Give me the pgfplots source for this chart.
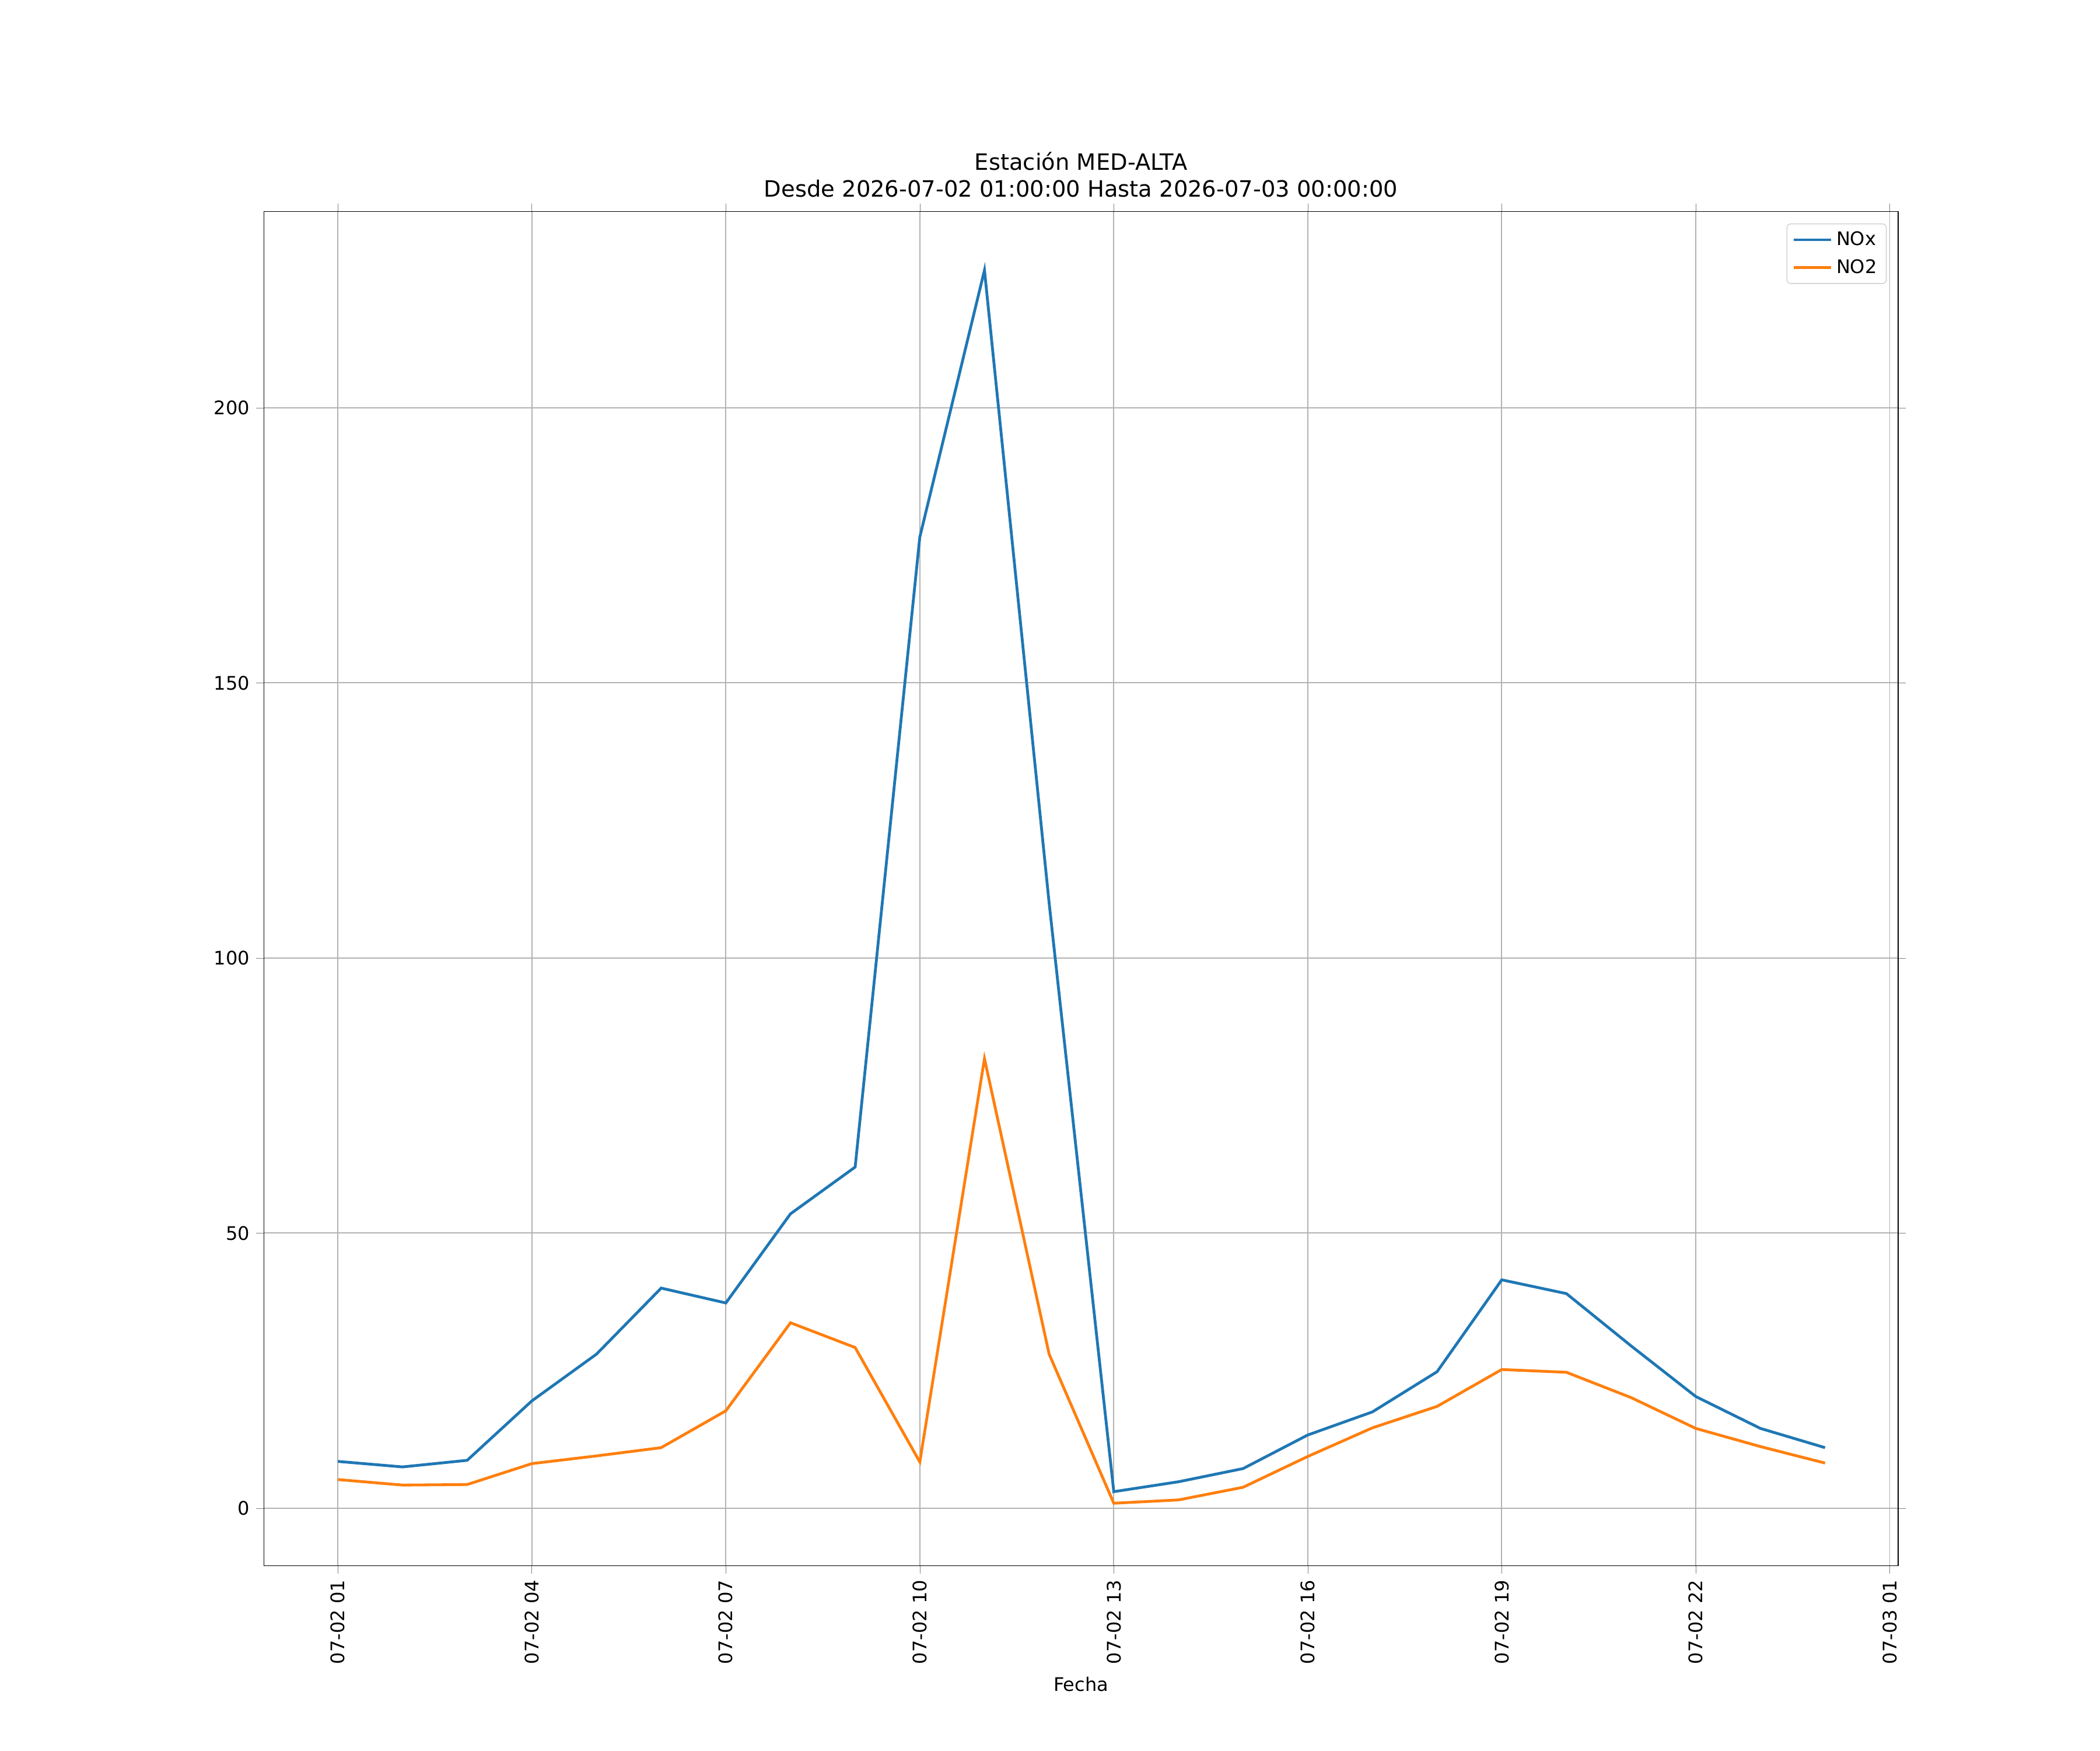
\documentclass[border=0pt]{standalone}
\usepackage{pgfplots}
\pgfplotsset{compat=1.18}
\usepackage{fontspec}
\setmainfont{DejaVu Sans}
\definecolor{cA}{HTML}{1F77B4}
\definecolor{cB}{HTML}{FF7F0E}
\begin{document}
\begin{tikzpicture}
\path (0,0) rectangle (1123.2pt,936pt);
\begin{axis}[at={(141.12pt,98.64pt)},anchor=south west,scale only axis,
 width=874.08pt,height=724.32pt,
 xmin=-1.145,xmax=24.13,ymin=-10.5,ymax=235.7,
 xtick={0,3,...,24},
 xticklabels={07-02 01,07-02 04,07-02 07,07-02 10,07-02 13,07-02 16,07-02 19,07-02 22,07-03 01},
 xticklabel style={rotate=90,anchor=east},
 ytick={0,50,100,150,200},
 /pgf/number format/assume math mode=true,
 tick label style={font=\fontsize{10}{12}\selectfont},
 grid=major, grid style={gray!60,line width=0.6pt},
 tick align=outside, major tick length=4pt,
 xlabel={Fecha}, xlabel style={font=\fontsize{10}{12}\selectfont},
 title={Estación MED-ALTA\\Desde 2026-07-02 01:00:00 Hasta 2026-07-03 00:00:00},
 title style={align=center,font=\fontsize{12}{14.5}\selectfont,yshift=-2pt},
 legend style={at={(0.993,0.991)},anchor=north east,font=\fontsize{10}{12}\selectfont,draw=gray!40,rounded corners=2pt,row sep=2pt},
 legend cell align=left,
 legend image code/.code={\draw[#1] (0cm,0cm) -- (0.7cm,0cm);},
]
\addplot[cA,line width=1.5pt] coordinates {(0,8.5)(1,7.5)(2,8.7)(3,19.5)(4,28)(5,40)(6,37.3)(7,53.5)(8,62)(9,176.5)(10,225)(11,110)(12,3)(13,4.8)(14,7.2)(15,13.3)(16,17.5)(17,24.8)(18,41.5)(19,39)(20,29.5)(21,20.3)(22,14.5)(23,11)};
\addlegendentry{NOx}
\addplot[cB,line width=1.5pt] coordinates {(0,5.2)(1,4.2)(2,4.3)(3,8.1)(4,9.5)(5,11)(6,17.7)(7,33.7)(8,29.2)(9,8.4)(10,81.7)(11,28)(12,0.9)(13,1.5)(14,3.8)(15,9.4)(16,14.6)(17,18.5)(18,25.2)(19,24.7)(20,20.1)(21,14.5)(22,11.2)(23,8.2)};
\addlegendentry{NO2}
\end{axis}
\end{tikzpicture}
\end{document}
